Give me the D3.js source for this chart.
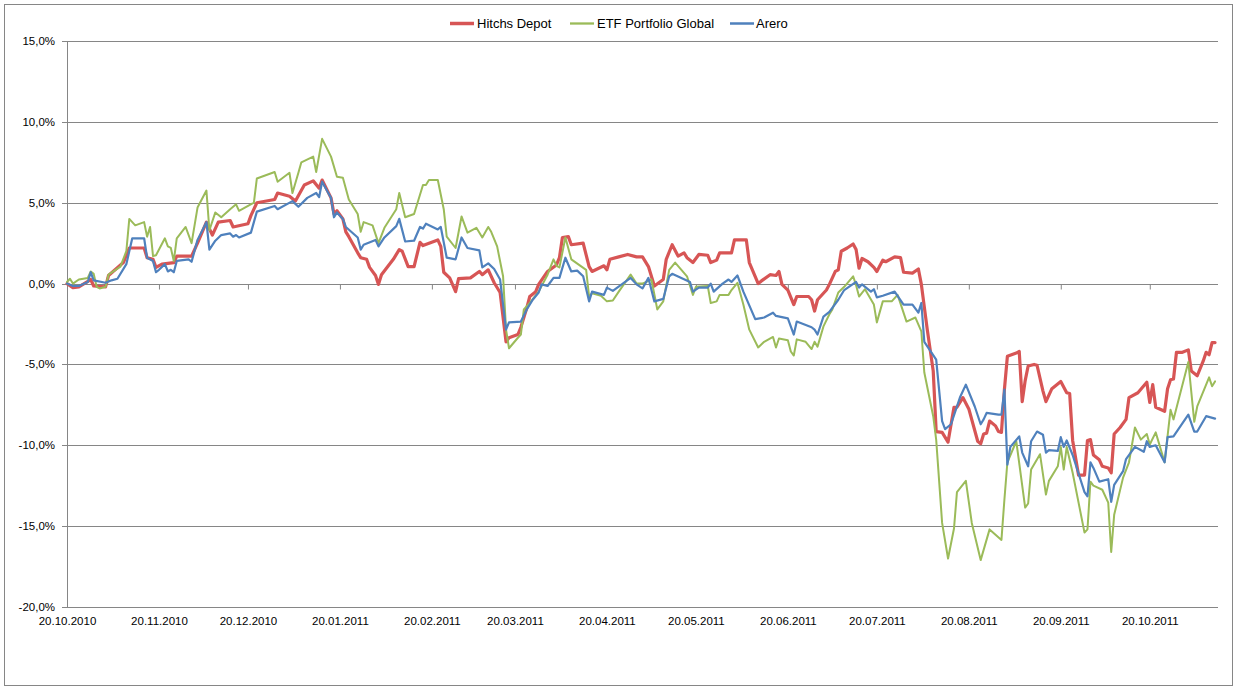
<!DOCTYPE html>
<html>
<head>
<meta charset="utf-8">
<script src="https://cdn.jsdelivr.net/npm/d3@7"></script>
<style>
  html, body { margin: 0; padding: 0; background: #fff; }
  svg { display: block; font-family: "Liberation Sans", Arial, sans-serif; }
</style>
</head>
<body>
<svg id="chart" width="1236" height="690"></svg>
<script>
// ---------- data ----------
const startDate = "20.10.2010";          // first trading day in the chart
const lastDay = 388;                     // axis end, days after start
const seriesNames = ["Hitchs Depot", "ETF Portfolio Global", "Arero"];
const xTickLabels = ["20.10.2010","20.11.2010","20.12.2010","20.01.2011","20.02.2011","20.03.2011",
  "20.04.2011","20.05.2011","20.06.2011","20.07.2011","20.08.2011","20.09.2011","20.10.2011"];
const yTicks = [-20, -15, -10, -5, 0, 5, 10, 15];

// [days after start, performance in %]
const hitchsDepot = [[0,0],[2,-0.25],[4,-0.2],[8,0.25],[9,-0.15],[13,-0.2],[14,0.5],[19,1.3],[21,2.2],[26,2.2],
  [27,1.6],[29,1.5],[30,1.0],[32,1.2],[36,1.3],[37,1.7],[42,1.7],[44,2.5],[47,3.8],[49,3.0],[51,3.8],[55,3.9],
  [56,3.5],[61,3.7],[62,4.2],[64,5.0],[70,5.2],[71,5.6],[75,5.4],[77,5.1],[80,6.1],[83,6.35],[85,5.9],[86,6.4],
  [89,5.3],[90,4.3],[91,4.5],[93,4.0],[94,3.2],[95,2.9],[98,1.9],[99,1.6],[101,1.5],[102,1.0],[104,0.5],[105,-0.05],
  [106,0.55],[110,1.5],[112,2.1],[113,2.0],[115,1.05],[117,1.05],[119,2.55],[120,2.35],[125,2.7],[126,2.3],
  [127,0.7],[129,0.35],[131,-0.5],[132,0.3],[136,0.35],[139,0.75],[140,0.55],[142,0.85],[144,0.05],[146,-0.55],
  [148,-3.6],[149,-3.35],[152,-3.15],[153,-2.7],[155,-1.5],[156,-0.8],[158,-0.5],[159,-0.05],[162,0.75],[165,1.15],
  [166,1.6],[167,2.85],[169,2.9],[170,2.4],[174,2.5],[176,1.05],[177,0.75],[181,1.1],[182,0.85],[183,1.5],[186,1.65],
  [189,1.8],[192,1.65],[194,1.65],[196,1.05],[198,-0.15],[201,0.25],[202,1.5],[204,2.4],[206,1.7],[208,1.9],[209,1.6],
  [211,1.3],[213,1.8],[216,1.75],[217,1.3],[219,1.45],[220,1.9],[224,1.9],[225,2.7],[229,2.7],[230,1.3],[233,0.0],
  [234,0.15],[237,0.55],[239,0.5],[240,0.75],[241,-0.05],[243,-0.4],[245,-1.3],[246,-0.8],[250,-0.8],[251,-1.0],
  [252,-1.7],[253,-1.0],[256,-0.4],[257,-0.05],[259,0.75],[260,0.85],[261,2.0],[263,2.2],[265,2.45],[266,2.1],
  [267,0.95],[268,1.55],[270,1.35],[272,1.0],[273,0.75],[275,1.45],[276,1.35],[279,1.65],[281,1.6],[282,0.7],
  [285,0.65],[287,0.9],[288,-0.05],[290,-2.85],[292,-5.4],[293,-9.15],[295,-9.2],[297,-9.8],[299,-7.65],[300,-7.65],
  [302,-7.05],[304,-7.75],[307,-9.75],[308,-9.9],[309,-9.3],[310,-9.25],[311,-8.5],[313,-8.8],[314,-9.15],[315,-9.2],
  [316,-6.55],[317,-4.5],[320,-4.3],[321,-4.2],[322,-7.3],[323,-6.0],[324,-5.1],[326,-5.0],[327,-5.05],[329,-6.65],
  [330,-7.3],[332,-6.5],[335,-6.05],[337,-6.75],[338,-6.8],[339,-9.7],[341,-11.85],[343,-11.85],[344,-9.7],[345,-9.65],
  [346,-10.6],[348,-10.9],[349,-11.3],[351,-11.4],[352,-11.7],[353,-9.3],[355,-8.9],[357,-8.4],[358,-7.05],[361,-6.75],
  [364,-6.1],[365,-7.35],[366,-6.25],[367,-7.65],[370,-7.9],[371,-6.5],[372,-5.95],[373,-5.9],[374,-4.25],[376,-4.25],
  [378,-4.1],[379,-5.4],[381,-5.7],[383,-4.8],[384,-4.25],[385,-4.4],[386,-3.65],[387,-3.65]];

const etfPortfolioGlobal = [[0,0.1],[1,0.3],[2,0.0],[4,0.25],[7,0.35],[8,0.75],[9,0.6],[10,-0.2],[11,-0.3],[13,-0.2],
  [14,0.55],[18,1.05],[20,2.0],[21,4.0],[23,3.6],[26,3.8],[27,2.9],[28,3.5],[29,1.7],[30,1.75],[33,2.8],[34,2.3],
  [35,2.2],[36,1.4],[37,2.8],[40,3.5],[42,2.5],[44,4.7],[47,5.75],[48,3.3],[50,4.4],[52,4.1],[55,4.6],[56,4.75],
  [57,4.9],[58,4.5],[63,5.0],[64,6.5],[70,6.9],[71,6.3],[75,6.85],[76,5.6],[78,6.85],[79,7.5],[83,7.85],[84,6.9],
  [86,8.95],[89,7.85],[91,6.6],[93,6.55],[95,5.2],[98,4.3],[99,3.2],[100,3.8],[103,3.6],[105,2.5],[107,3.45],
  [111,4.6],[112,5.6],[114,4.1],[117,4.3],[120,6.1],[121,6.1],[122,6.4],[125,6.4],[127,4.6],[128,2.9],[131,2.2],
  [133,4.15],[135,3.15],[138,3.45],[140,2.85],[142,3.5],[143,3.2],[145,2.3],[147,0.45],[148,-2.85],[149,-4.0],
  [152,-3.35],[153,-3.15],[154,-1.6],[156,-1.2],[159,-0.5],[162,0.55],[164,1.5],[165,1.1],[166,1.0],[168,2.85],
  [170,1.5],[175,0.85],[176,-0.8],[177,-0.6],[180,-0.75],[182,-1.1],[184,-1.05],[186,-0.5],[190,0.55],[192,0.0],
  [194,0.0],[197,0.25],[199,-1.6],[201,-1.1],[203,0.85],[205,1.3],[209,0.45],[211,-0.7],[212,-0.2],[216,-0.15],
  [217,-1.2],[219,-1.1],[220,-0.7],[223,-0.7],[224,-0.4],[226,0.05],[228,-1.3],[230,-2.85],[233,-3.95],[235,-3.6],
  [238,-3.3],[239,-3.95],[240,-3.4],[243,-3.5],[244,-4.2],[245,-4.45],[246,-3.45],[249,-3.6],[251,-4.05],[252,-3.6],
  [253,-3.9],[255,-2.65],[257,-1.9],[258,-1.6],[260,-0.55],[262,-0.2],[265,0.45],[266,-0.1],[267,-0.8],[269,-0.35],
  [272,-1.3],[273,-2.4],[275,-1.1],[278,-1.1],[280,-0.7],[283,-2.35],[286,-2.1],[288,-2.95],[289,-5.5],[292,-8.2],
  [293,-9.65],[295,-14.8],[297,-17.0],[299,-15.15],[300,-12.9],[303,-12.2],[305,-14.8],[308,-17.1],[311,-15.2],
  [315,-15.85],[316,-13.35],[317,-11.05],[320,-9.75],[323,-13.85],[324,-13.6],[325,-11.5],[328,-10.55],[330,-13.05],
  [331,-12.2],[334,-11.3],[335,-10.1],[336,-11.5],[337,-10.1],[339,-11.7],[343,-15.4],[344,-15.2],[345,-12.25],
  [346,-12.5],[349,-12.75],[351,-13.55],[352,-16.6],[353,-14.3],[356,-12.0],[358,-11.05],[360,-8.9],[362,-9.65],
  [364,-9.3],[365,-9.95],[367,-9.2],[370,-11.05],[372,-7.8],[373,-8.4],[378,-4.85],[380,-8.55],[381,-7.6],
  [385,-5.8],[386,-6.35],[387,-6.05]];

const arero = [[0,0],[2,-0.15],[4,-0.15],[7,0.1],[8,0.7],[9,0.2],[13,0.05],[15,0.2],[17,0.3],[20,1.2],[22,2.8],
  [26,2.8],[27,1.6],[29,1.4],[30,0.7],[31,0.85],[33,1.2],[34,0.75],[35,0.85],[36,0.7],[37,1.4],[41,1.5],[42,1.35],
  [44,2.7],[47,3.8],[48,2.1],[50,2.65],[52,3.0],[55,3.1],[56,2.9],[57,3.0],[58,2.85],[62,3.15],[64,4.45],[70,4.8],
  [71,4.6],[76,5.1],[78,4.75],[81,5.3],[84,5.6],[85,5.35],[86,6.3],[89,5.3],[90,4.1],[91,4.4],[93,4.0],[94,3.5],
  [98,2.85],[99,2.1],[100,2.4],[104,2.7],[105,2.3],[107,2.85],[111,3.55],[112,4.0],[114,2.6],[117,2.65],[119,3.5],
  [120,3.4],[121,3.7],[125,3.35],[126,3.5],[128,1.6],[131,1.5],[133,2.85],[135,2.2],[139,2.05],[140,1.0],[142,1.25],
  [144,0.9],[146,0.25],[148,-2.85],[149,-2.4],[153,-2.35],[155,-1.6],[157,-1.0],[159,-0.55],[160,-0.05],[162,-0.15],
  [164,0.35],[166,0.35],[168,1.6],[170,0.75],[172,0.8],[174,0.45],[176,-1.1],[177,-0.5],[181,-0.7],[182,-0.25],
  [184,-0.45],[190,0.35],[192,-0.05],[194,-0.3],[196,0.35],[198,-1.1],[201,-0.95],[203,0.45],[204,0.6],[210,0.1],
  [211,-0.5],[213,-0.25],[216,-0.25],[217,0.0],[218,-0.5],[221,0.0],[223,0.25],[224,0.1],[226,0.5],[228,-0.5],
  [232,-2.2],[235,-2.1],[238,-1.8],[239,-2.0],[243,-2.15],[245,-3.15],[246,-2.35],[251,-2.7],[252,-2.85],[253,-3.15],
  [255,-2.05],[257,-1.75],[260,-1.0],[262,-0.4],[266,0.1],[267,-0.25],[268,-0.05],[271,-0.5],[272,-0.35],[273,-0.85],
  [275,-0.75],[279,-0.5],[282,-1.3],[285,-1.3],[287,-1.8],[288,-1.2],[289,-3.6],[293,-4.7],[295,-8.5],[296,-9.0],
  [298,-8.7],[301,-7.05],[303,-6.25],[306,-7.6],[308,-8.7],[309,-8.4],[310,-8.0],[314,-8.1],[315,-8.1],[316,-6.55],
  [317,-11.2],[318,-10.1],[321,-9.45],[322,-10.45],[324,-11.3],[325,-9.75],[327,-9.15],[329,-9.35],[330,-10.45],
  [331,-10.3],[334,-10.35],[335,-9.5],[336,-10.1],[337,-9.7],[339,-10.6],[343,-12.9],[344,-13.15],[345,-11.05],
  [346,-11.4],[348,-12.25],[351,-12.1],[352,-13.5],[353,-12.45],[356,-11.6],[357,-10.85],[360,-10.1],[363,-10.4],
  [364,-9.75],[365,-10.1],[367,-10.0],[370,-11.05],[371,-9.5],[373,-9.45],[378,-8.1],[380,-9.15],[381,-9.15],
  [384,-8.2],[387,-8.35]];

const seriesColors = ["#D75555", "#9BBB59", "#4F81BD"];
const seriesWidths = [3.2, 2, 2.2];

// ---------- chart ----------
const W = 1236, H = 690;
const plot = {left: 67, right: 1218, top: 41, bottom: 607};
const svg = d3.select("#chart");

svg.append("rect").attr("x", 0).attr("y", 0).attr("width", W).attr("height", H).attr("fill", "#fff");
svg.append("rect").attr("x", 4.5).attr("y", 4.5).attr("width", 1228).attr("height", 681)
  .attr("fill", "none").attr("stroke", "#868686").attr("stroke-width", 1);

const parse = d3.timeParse("%d.%m.%Y");
const t0 = parse(startDate);
const dayToDate = d => d3.timeDay.offset(t0, d);

const x = d3.scaleTime().domain([t0, dayToDate(lastDay)]).range([plot.left, plot.right]);
const y = d3.scaleLinear().domain([-20, 15]).range([plot.bottom, plot.top]);

const locale = d3.formatLocale({decimal: ",", thousands: ".", grouping: [3], currency: ["", "€"], minus: "-"});
const pct = locale.format(".1f");

// horizontal gridlines + y axis ticks/labels
const yAxis = d3.axisLeft(y).tickValues(yTicks).tickSize(5).tickPadding(7).tickFormat(d => pct(d) + "%");
const gy = svg.append("g").attr("transform", `translate(${plot.left},0)`).call(yAxis);
gy.select(".domain").remove();
gy.selectAll(".tick line").attr("stroke", "#868686").attr("shape-rendering", "crispEdges");
gy.selectAll(".tick text").attr("fill", "#000").style("font-size", "11.5px")
  .style("font-family", "'Liberation Sans', Arial, sans-serif");

svg.append("g").selectAll("line").data(yTicks).join("line")
  .attr("x1", plot.left).attr("x2", plot.right)
  .attr("y1", d => Math.round(y(d)) + 0.5).attr("y2", d => Math.round(y(d)) + 0.5)
  .attr("stroke", "#868686").attr("stroke-width", 1);
gy.selectAll(".tick").attr("transform", d => `translate(0,${Math.round(y(d)) + 0.5})`);

// vertical axis line
svg.append("line").attr("x1", plot.left + 0.5).attr("x2", plot.left + 0.5)
  .attr("y1", plot.top).attr("y2", plot.bottom + 1)
  .attr("stroke", "#868686");

// horizontal axis at 0% with tick marks
const tickDates = xTickLabels.map(parse);
const y0 = Math.round(y(0)) + 0.5;
const xAxis = d3.axisBottom(x).tickValues(tickDates).tickSize(5).tickFormat("");
const gx = svg.append("g").attr("transform", `translate(0,${y0})`).call(xAxis);
gx.select(".domain").attr("stroke", "#868686").attr("d", `M${plot.left},0H${plot.right}`);
gx.selectAll(".tick line").attr("stroke", "#868686");

// x labels along bottom
const xLab = d3.axisBottom(x).tickValues(tickDates).tickSize(0).tickPadding(10)
  .tickFormat((d, i) => xTickLabels[i]);
const gxl = svg.append("g").attr("transform", `translate(0,${plot.bottom})`).call(xLab);
gxl.select(".domain").remove();
gxl.selectAll(".tick text").attr("fill", "#000").style("font-size", "11.5px")
  .style("font-family", "'Liberation Sans', Arial, sans-serif");

// lines
const line = d3.line().x(d => x(dayToDate(d[0]))).y(d => y(d[1]));
const allSeries = [hitchsDepot, etfPortfolioGlobal, arero];
svg.append("g").selectAll("path").data(allSeries).join("path")
  .attr("d", line)
  .attr("fill", "none")
  .attr("stroke", (d, i) => seriesColors[i])
  .attr("stroke-width", (d, i) => seriesWidths[i])
  .attr("stroke-linejoin", "round")
  .attr("stroke-linecap", "round");

// legend
const legendItems = [
  {x: 450, textX: 477},
  {x: 570, textX: 597},
  {x: 730, textX: 756}
];
const lg = svg.append("g").attr("class", "legend");
legendItems.forEach((it, i) => {
  lg.append("line").attr("x1", it.x).attr("x2", it.x + 24).attr("y1", 23.5).attr("y2", 23.5)
    .attr("stroke", seriesColors[i]).attr("stroke-width", seriesWidths[i] + 0.3);
  lg.append("text").attr("x", it.textX).attr("y", 28).text(seriesNames[i])
    .attr("fill", "#000").style("font-size", "13px");
});
</script>
</body>
</html>
